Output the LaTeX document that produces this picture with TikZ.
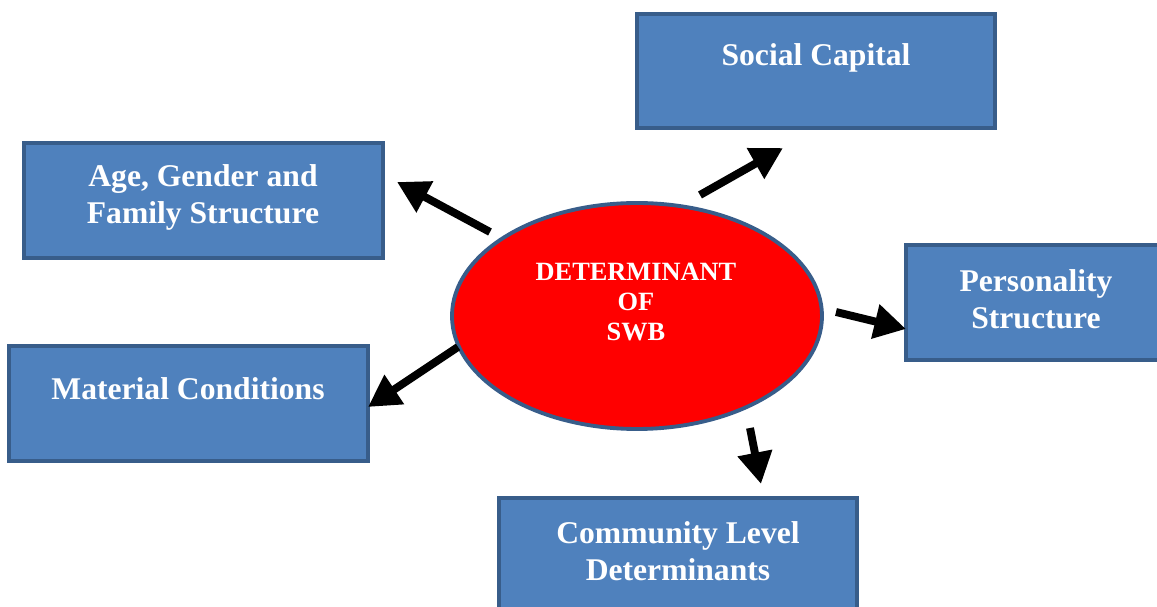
\documentclass[tikz,border=0pt]{standalone}
\usepackage{fontspec}
\setmainfont{Liberation Serif}
\usetikzlibrary{arrows.meta,shapes.geometric}
\definecolor{boxfill}{HTML}{4F81BD}
\definecolor{boxline}{HTML}{385D8A}
\begin{document}
\begin{tikzpicture}[x=0.02cm,y=-0.02cm,
  box/.style={draw=boxline,fill=boxfill,line width=2.2pt,rectangle,inner sep=0pt},
  btext/.style={text=white,font=\bfseries\fontsize{18}{21}\selectfont,align=center,inner sep=0pt},
  etext/.style={text=white,font=\bfseries\fontsize{15}{17}\selectfont,align=center,inner sep=0pt},
  arr/.style={line width=4.5pt,-{Triangle[length=18pt,width=19pt]}}]
\useasboundingbox (0,0) rectangle (1157,607);
\begin{scope}
\clip (0,0) rectangle (1157,607);
% boxes
\node[box,minimum width=358*0.02cm,minimum height=114*0.02cm] (soc) at (816,71) {};
\node[box,minimum width=359*0.02cm,minimum height=115*0.02cm] (age) at (203.5,200.5) {};
\node[box,minimum width=260*0.02cm,minimum height=115*0.02cm] (per) at (1036,302.5) {};
\node[box,minimum width=359*0.02cm,minimum height=115*0.02cm] (mat) at (188.5,403.5) {};
\node[box,minimum width=358*0.02cm,minimum height=120*0.02cm] (com) at (678,558) {};
% ellipse
\node[draw=boxline,fill=red,line width=2.2pt,ellipse,minimum width=370*0.02cm,minimum height=226*0.02cm,inner sep=0pt] (swb) at (637,316) {};
\end{scope}
% texts
\node[btext] (tsoc) at (816,58) {Social Capital};
\node[btext] (tage) at (203,197) {Age, Gender and\\Family Structure};
\node[btext] (tper) at (1036,299) {Personality\\Structure};
\node[btext] (tmat) at (188,389) {Material Conditions};
\node[btext] (tcom) at (678,551) {Community Level\\Determinants};
\node[etext] (tswb) at (636,302) {DETERMINANT\\OF\\SWB};
% arrows
\coordinate (a1s) at (490,232); \coordinate (a1e) at (397,182);
\coordinate (a2s) at (700,195); \coordinate (a2e) at (783,148);
\coordinate (a3s) at (836,312); \coordinate (a3e) at (906,329);
\coordinate (a4s) at (458,347); \coordinate (a4e) at (368,407);
\coordinate (a5s) at (750,428); \coordinate (a5e) at (761,484);
\draw[arr] (a1s) -- (a1e);
\draw[arr] (a2s) -- (a2e);
\draw[arr] (a3s) -- (a3e);
\draw[arr] (a4s) -- (a4e);
\draw[arr] (a5s) -- (a5e);
\end{tikzpicture}
\end{document}
